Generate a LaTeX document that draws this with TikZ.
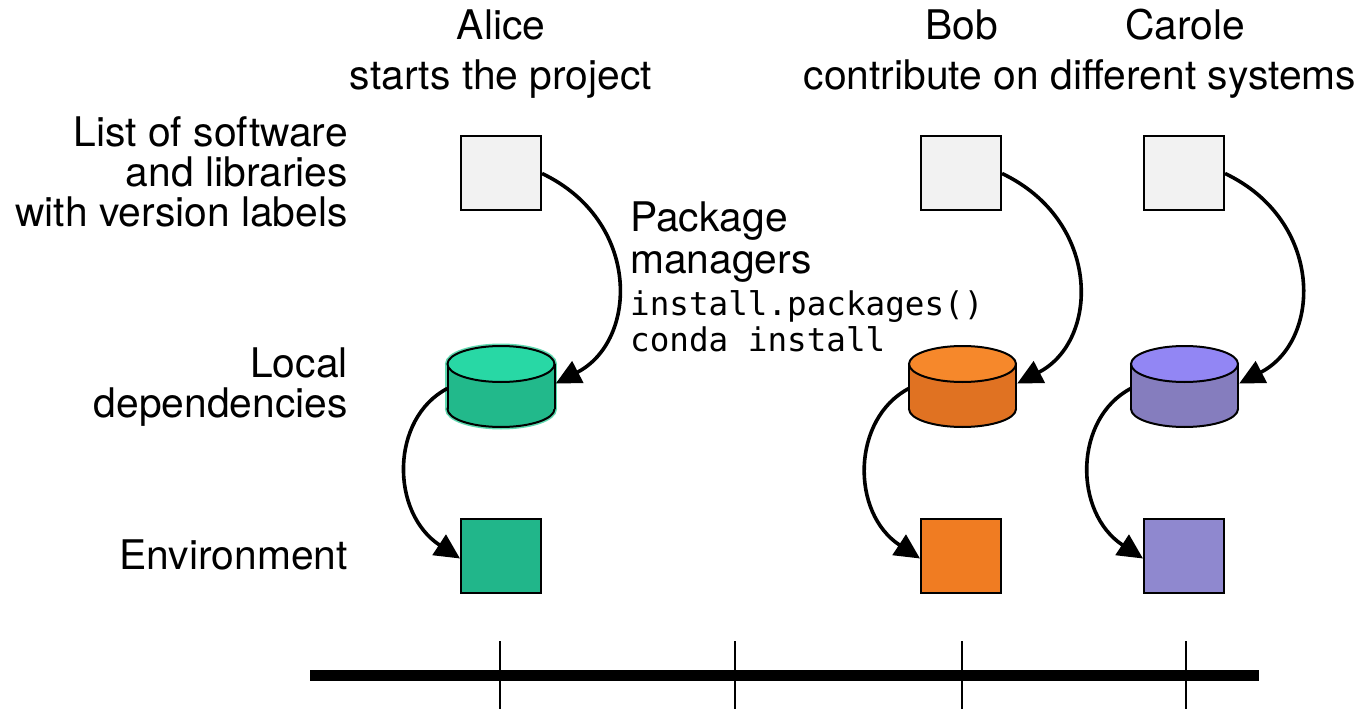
\documentclass[tikz,border=0pt]{standalone}
\usepackage{fontspec}
\setmainfont{TeX Gyre Heros}
\newfontfamily\codefont{DejaVu Sans Mono}
\usetikzlibrary{arrows.meta,calc}

\definecolor{listgray}{HTML}{F2F2F2}
\definecolor{aliceTop}{HTML}{28D8A5}
\definecolor{aliceBody}{HTML}{22B98B}
\definecolor{aliceEnv}{HTML}{21B68A}
\definecolor{aliceHalo}{HTML}{5FD9B0}
\definecolor{bobTop}{HTML}{F6882B}
\definecolor{bobBody}{HTML}{E07222}
\definecolor{bobEnv}{HTML}{F07C22}
\definecolor{caroleTop}{HTML}{9286F4}
\definecolor{caroleBody}{HTML}{857DBE}
\definecolor{caroleEnv}{HTML}{8F88CF}

\tikzset{
  label text/.style={font=\fontsize{40.8}{40}\selectfont, inner sep=0pt},
  code text/.style={font=\codefont\fontsize{32.6}{35}\selectfont, inner sep=0pt},
  itembox/.style={draw=black, line width=2pt, minimum width=80pt, minimum height=74pt, inner sep=0pt},
  cylframe/.style={minimum width=107pt, minimum height=82pt, inner sep=0pt},
  flow/.style={line width=3.6pt, -{Triangle[length=25pt,width=24pt]}},
  tickmark/.style={line width=2pt},
  axisline/.style={line width=11pt}
}

% cylinder: #1 centre x, #2 top fill, #3 body fill
\newcommand{\drawcyl}[3]{%
  \filldraw[fill=#3, draw=black, line width=2pt] (#1,409) ellipse [x radius=53.5, y radius=18];
  \fill[#3] (#1-53.5,364) rectangle (#1+53.5,409);
  \draw[line width=2pt] (#1-53.5,364) -- (#1-53.5,409) (#1+53.5,364) -- (#1+53.5,409);
  \filldraw[fill=#2, draw=black, line width=2pt] (#1,364) ellipse [x radius=53.5, y radius=18];
}

\begin{document}
\begin{tikzpicture}[x=1pt, y=-1pt]
\useasboundingbox (0,0) rectangle (1365,711);

% column headings
\node[label text, anchor=base] (alice) at (501,40) {Alice};
\node[label text, anchor=base] (aliceNote) at (501,90) {starts the project};
\node[label text, anchor=base] (bob) at (962,40) {Bob};
\node[label text, anchor=base] (carole) at (1185,40) {Carole};
\node[label text, anchor=base] (contribNote) at (1080,90) {contribute on different systems};

% row headings
\node[label text, anchor=base east] (rowListA) at (348,147) {List of software};
\node[label text, anchor=base east] (rowListB) at (348,187) {and libraries};
\node[label text, anchor=base east] (rowListC) at (348,227) {with version labels};
\node[label text, anchor=base east] (rowDepA) at (348,377) {Local};
\node[label text, anchor=base east] (rowDepB) at (348,417) {dependencies};
\node[label text, anchor=base east] (rowEnv) at (348,569) {Environment};

% package manager note
\node[label text, anchor=base west] (pmA) at (630,232) {Package};
\node[label text, anchor=base west] (pmB) at (630,274) {managers};
\node[code text, anchor=base west] (pmC) at (630,316) {install.packages()};
\node[code text, anchor=base west] (pmD) at (630,351) {conda install};

% Alice column
\node[itembox, fill=listgray] (listA) at (501,173.5) {};
\begin{scope}
  \draw[aliceHalo, line width=5pt] (501,409) ellipse [x radius=53.5, y radius=18];
  \draw[aliceHalo, line width=5pt] (447.5,364) -- (447.5,409) (554.5,364) -- (554.5,409);
  \draw[aliceHalo, line width=5pt] (501,364) ellipse [x radius=53.5, y radius=18];
  \drawcyl{501}{aliceTop}{aliceBody}
\end{scope}
\node[cylframe] (depA) at (501,386.5) {};
\node[itembox, fill=aliceEnv] (envA) at (501,555.5) {};

% Bob column
\node[itembox, fill=listgray] (listB) at (961,173.5) {};
\drawcyl{962.5}{bobTop}{bobBody}
\node[cylframe] (depB) at (962.5,386.5) {};
\node[itembox, fill=bobEnv] (envB) at (961,555.5) {};

% Carole column
\node[itembox, fill=listgray] (listC) at (1184,173.5) {};
\drawcyl{1184.5}{caroleTop}{caroleBody}
\node[cylframe] (depC) at (1184.5,386.5) {};
\node[itembox, fill=caroleEnv] (envC) at (1184,555.5) {};

% install steps
\draw[flow] (listA.east) .. controls +(99,47) and +(83,-43) .. ($(depA.east)+(1,-3)$);
\draw[flow] (listB.east) .. controls +(99,47) and +(83,-43) .. ($(depB.east)+(1,-3)$);
\draw[flow] (listC.east) .. controls +(99,47) and +(83,-43) .. ($(depC.east)+(1,-3)$);

% environment creation
\draw[flow] ($(depA.west)+(0,2)$) .. controls +(-57,30) and +(-70,-46) .. ($(envA.west)+(0,3)$);
\draw[flow] ($(depB.west)+(0,2)$) .. controls +(-57,30) and +(-70,-46) .. ($(envB.west)+(0,3)$);
\draw[flow] ($(depC.west)+(0,2)$) .. controls +(-57,30) and +(-70,-46) .. ($(envC.west)+(0,3)$);

% timeline
\coordinate (tStart) at (310,675);
\coordinate (tEnd) at (1259,675);
\draw[axisline] (tStart) -- (tEnd);
\foreach \tx/\tn in {500/t1, 735/t2, 962/t3, 1186/t4} {
  \coordinate (\tn top) at (\tx,641);
  \coordinate (\tn bot) at (\tx,709);
  \draw[tickmark] (\tn top) -- (\tn bot);
}
\end{tikzpicture}
\end{document}
